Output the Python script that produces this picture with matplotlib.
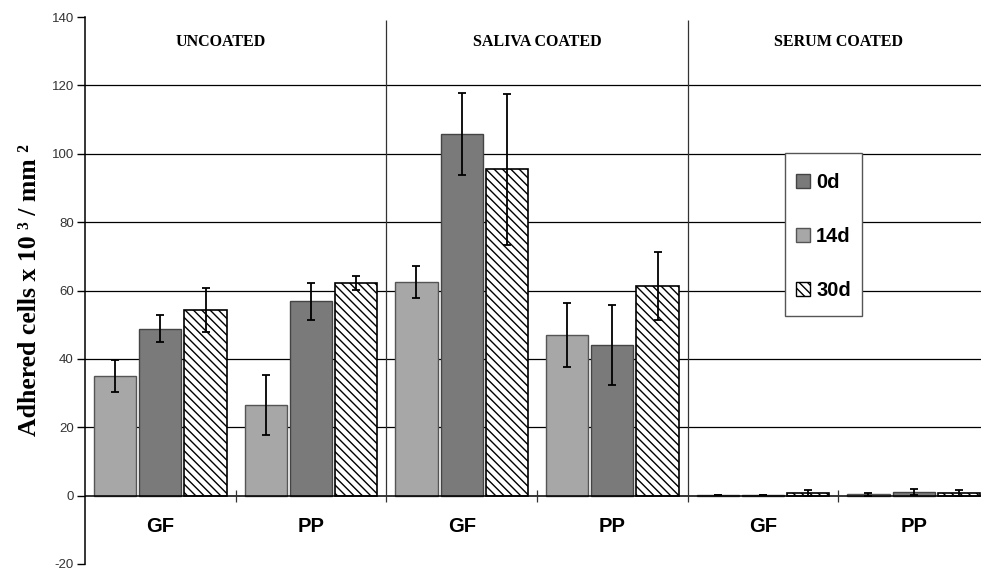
import matplotlib
matplotlib.use("Agg")
import matplotlib.pyplot as plt
import numpy as np
from matplotlib.patches import Patch, Rectangle


##--- data
groups   = ['GF', 'PP', 'GF', 'PP', 'GF', 'PP']
sections = ['UNCOATED', 'SALIVA COATED', 'SERUM COATED']

# bars are drawn light, dark, hatched inside each group
d14   = [35.0, 26.6, 62.6, 47.0, 0.1, 0.4]
err14 = [4.6, 8.8, 4.7, 9.4, 0.0, 0.5]
d0    = [48.8, 56.9, 105.8, 44.1, 0.3, 1.0]
err0  = [3.9, 5.4, 12.0, 11.6, 0.0, 0.8]
d30   = [54.2, 62.2, 95.4, 61.4, 0.8, 0.8]
err30 = [6.4, 2.0, 22.2, 10.0, 0.8, 0.8]

yticks = np.arange(-20, 141, 20)

plt.rcParams['axes.unicode_minus'] = False
plt.rcParams['hatch.linewidth'] = 1.0

##--- figure
fig = plt.figure(figsize=(9.81, 5.71), dpi=100)
ax = fig.add_axes([85/981, 1 - 564/571, 904/981, 547/571])

x = np.arange(len(groups))
w = 0.28
light = '#a7a7a7'
dark  = '#7a7a7a'

# grid behind bars
for yv in yticks:
    if 0 < yv < 140:
        ax.axhline(yv, color='black', lw=0.9, zorder=0)

ekw = dict(ecolor='black', elinewidth=1.3, capsize=3.2, capthick=1.3)
ax.bar(x - 0.3, d14, w, yerr=err14, color=light, edgecolor='#555555',
       lw=1, zorder=2, error_kw=ekw)
ax.bar(x, d0, w, yerr=err0, color=dark, edgecolor='#444444',
       lw=1, zorder=2, error_kw=ekw)
ax.bar(x + 0.3, d30, w, yerr=err30, color='white', edgecolor='black',
       hatch='\\\\\\\\', lw=1.2, zorder=2, error_kw=ekw)

# zero line, separators, small ticks
ax.axhline(0, color='black', lw=1.1, zorder=3)
ax.vlines([1.5, 3.5], -2, 139, color='#333333', lw=0.9, zorder=3)
ax.vlines([0.5, 2.5, 4.5], -2, 1.5, color='#333333', lw=0.9, zorder=3)

# category labels
for xi, g in zip(x, groups):
    ax.text(xi, -9.0, g, ha='center', va='center', fontsize=14.5,
            fontweight='bold', family='Liberation Sans')

# section titles
for xs, s in zip([0.4, 2.5, 4.5], sections):
    ax.text(xs, 132.8, s, ha='center', va='center', fontsize=11.5,
            fontweight='bold', family='Liberation Serif')

ax.set_xlim(-0.5, 5.5)
ax.set_ylim(-20, 140)
ax.set_yticks(yticks)
ax.set_xticks([])
for sp in ['top', 'right', 'bottom']:
    ax.spines[sp].set_visible(False)
ax.spines['left'].set_linewidth(1.1)
ax.tick_params(axis='y', direction='out', length=6, width=1,
               labelsize=9.5, labelcolor='#333333', pad=2)
for lab in ax.get_yticklabels():
    lab.set_family('Liberation Sans')

fig.text(30/981, 1 - 290/571, 'Adhered cells x 10 \u00b3 / mm \u00b2',
         rotation=90, ha='center', va='center', fontsize=18.5,
         fontweight='bold', family='Liberation Serif')

##--- legend (box drawn by hand)
box = Rectangle((785/981, 1 - 316/571), 77/981, 163/571,
                transform=fig.transFigure, facecolor='white',
                edgecolor='#555555', lw=1.0, zorder=4)
fig.patches.append(box)

handles = [Patch(facecolor=dark, edgecolor='#444444', label='0d'),
           Patch(facecolor=light, edgecolor='#555555', label='14d'),
           Patch(facecolor='white', edgecolor='black', hatch='\\\\\\\\', label='30d')]
leg = fig.legend(handles=handles, loc='upper left',
                 bbox_to_anchor=(796/981, 1 - 173/571),
                 prop={'family': 'Liberation Sans', 'weight': 'bold', 'size': 14.5},
                 frameon=False, handlelength=0.7,
                 handleheight=0.7, handletextpad=0.3, labelspacing=1.75,
                 borderpad=0, borderaxespad=0)
leg.set_zorder(5)

fig.savefig('out.png', dpi=100)
